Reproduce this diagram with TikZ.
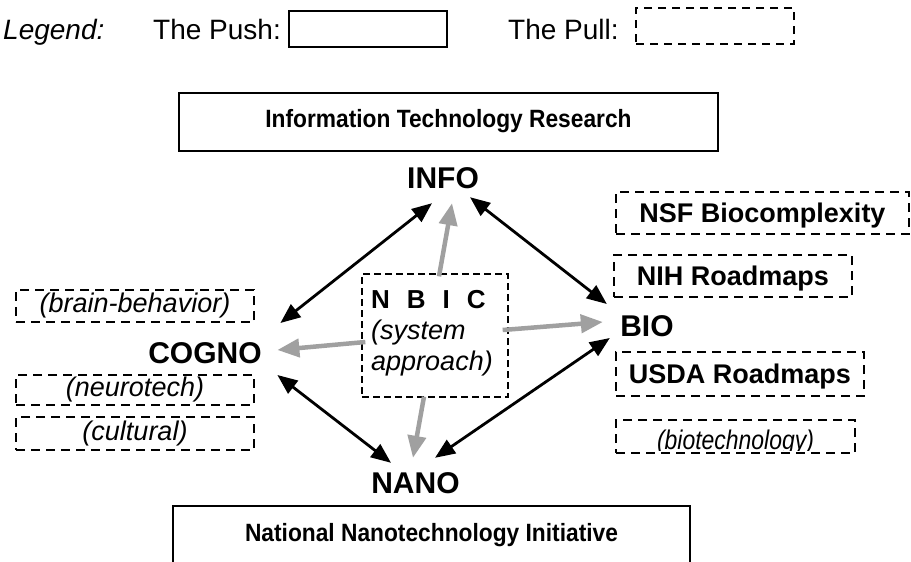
\documentclass[tikz,border=0pt]{standalone}
\usepackage{fontspec}
\setmainfont{Liberation Sans}
\newfontfamily\condfont[FakeStretch=0.91]{Liberation Sans}
\newfontfamily\narrowfont[FakeStretch=0.85]{Liberation Sans}
\usetikzlibrary{arrows.meta,calc}
\definecolor{arrowgray}{RGB}{160,160,160}
\begin{document}
\begin{tikzpicture}[x=1pt,y=-1pt,
  lbl/.style={font=\fontsize{30}{30}\selectfont\bfseries, inner sep=0pt, text height=21.5pt, text depth=0pt},
  pushbox/.style={draw, line width=1.8pt, inner sep=0pt},
  pullbox/.style={draw, line width=1.8pt, dash pattern=on 9pt off 6pt, inner sep=0pt},
  thinpull/.style={draw, line width=1.3pt, dash pattern=on 7pt off 4pt, inner sep=0pt},
  boldtxt/.style={font=\fontsize{27}{27}\selectfont\bfseries, text height=19.5pt, text depth=0pt},
  ittxt/.style={font=\fontsize{27}{27}\selectfont\itshape},
  legtxt/.style={font=\fontsize{28}{28}\selectfont, anchor=base west, inner sep=0pt},
  condtxt/.style={font=\condfont\fontsize{25}{25}\selectfont\bfseries, inner sep=0pt, text height=17.9pt, text depth=0pt},
  nbictxt/.style={anchor=base west, inner sep=0pt},
  biarrow/.style={{Triangle[length=20pt,width=16pt]}-{Triangle[length=20pt,width=16pt]}, line width=2.8pt},
  grayarrow/.style={-{Triangle[length=22pt,width=18pt]}, line width=4.5pt, color=arrowgray},
]
\fill[white] (0,0) rectangle (911,562);
\useasboundingbox (0,0) rectangle (911,562);

% legend
\node[legtxt, font=\fontsize{28}{28}\selectfont\itshape] (legend) at (3,39) {Legend:};
\node[legtxt] (pushlbl) at (153,39) {The Push:};
\node[pushbox, minimum width=158pt, minimum height=36pt] (pushleg) at (368,29) {};
\node[legtxt] (pulllbl) at (508,39) {The Pull:};
\node[pullbox, line width=1.5pt, dash pattern=on 8pt off 6pt, minimum width=158pt, minimum height=36pt] (pullleg) at (715,26) {};

% top and bottom push boxes
\node[pushbox, minimum width=539pt, minimum height=58pt] (itrbox) at (448.5,122) {};
\node[condtxt] (itr) at (448.5,119) {Information Technology Research};
\node[pushbox, minimum width=517pt, minimum height=84pt] (nnibox) at (431.5,548) {};
\node[condtxt] (nni) at (431.5,532.5) {National Nanotechnology Initiative};

% main labels
\node[lbl] (info) at (443,178) {INFO};
\node[lbl] (cogno) at (205,352.5) {COGNO};
\node[lbl] (bio) at (647,326) {BIO};
\node[lbl] (nano) at (415.5,482.5) {NANO};

% right pull boxes
\node[pullbox, boldtxt, minimum width=293pt, minimum height=42pt] (nsf) at (762.5,213) {NSF Biocomplexity};
\node[pullbox, boldtxt, minimum width=238pt, minimum height=42pt] (nih) at (733,276) {NIH Roadmaps};
\node[pullbox, boldtxt, minimum width=248pt, minimum height=44pt] (usda) at (740,374) {USDA Roadmaps};
\node[pullbox, minimum width=239pt, minimum height=33pt] (biotech) at (735.5,436.5) {};
\begin{scope}
  \clip (617,421) rectangle (854,450.5);
  \node[font=\narrowfont\fontsize{27}{27}\selectfont\itshape, anchor=base, inner sep=0pt] (biotechtxt) at (735.5,449.5) {(biotechnology)};
\end{scope}

% left pull boxes
\node[pullbox, ittxt, minimum width=238pt, minimum height=32pt] (brain) at (135,306) {(brain-behavior)};
\node[pullbox, ittxt, minimum width=238pt, minimum height=30pt] (neuro) at (135,390) {(neurotech)};
\node[pullbox, ittxt, minimum width=238pt, minimum height=33pt] (cultural) at (135,433.5) {(cultural)};

% NBIC box
\node[thinpull, minimum width=146pt, minimum height=123pt] (nbic) at (435,335.5) {};
\node[nbictxt, font=\fontsize{26}{26}\selectfont\bfseries] (nbicletters) at (371,308) {N\hspace{17pt}B\hspace{17pt}I\hspace{17pt}C};
\node[nbictxt, font=\fontsize{27}{27}\selectfont\itshape] (sys) at (371,339) {(system};
\node[nbictxt, font=\fontsize{27}{27}\selectfont\itshape] (appr) at (371,370) {approach)};

% black double arrows
\draw[biarrow] ($(info.south)+(-11,14.25)$) -- ($(cogno.east)+(18.5,-29.5)$);
\draw[biarrow] ($(info.south)+(27,8.25)$) -- ($(bio.west)+(-13.3,-22)$);
\draw[biarrow] ($(cogno.east)+(15.5,22.5)$) -- ($(nano.north)+(-24.5,-8.75)$);
\draw[biarrow] ($(bio.west)+(-10.3,12)$) -- ($(nano.north)+(19.5,-13.75)$);

% gray arrows from NBIC
\draw[grayarrow] ($(nbic.north)+(4,3)$) -- ($(info.south)+(9,14.25)$);
\draw[grayarrow] ($(nbic.west)+(4,6.5)$) -- ($(cogno.east)+(15.5,-2.5)$);
\draw[grayarrow] ($(nbic.east)+(-6,-5.5)$) -- ($(bio.west)+(-17.3,-4)$);
\draw[grayarrow] ($(nbic.south)+(-11,-1)$) -- ($(nano.north)+(-2.5,-13.75)$);
\end{tikzpicture}
\end{document}
